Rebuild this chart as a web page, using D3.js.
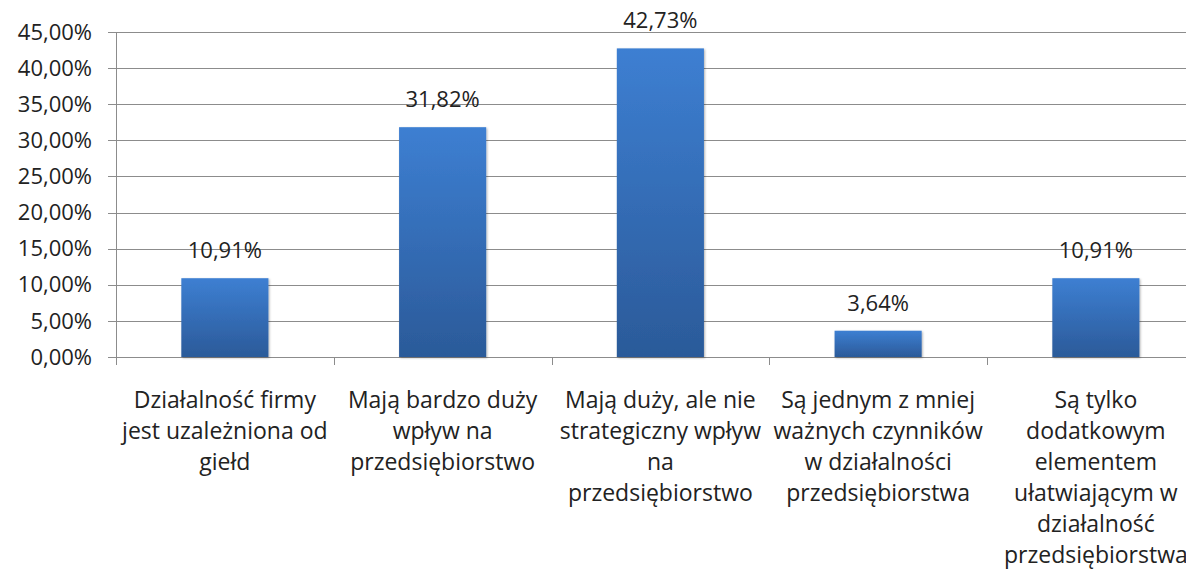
<!DOCTYPE html>
<html><head><meta charset="utf-8">
<script src="https://cdn.jsdelivr.net/npm/d3@7"></script>
<style>body{margin:0;background:#fff;} svg{display:block;}</style>
</head><body>
<svg id="c" width="1186" height="571"></svg>
<script>
const categories = [
  ["Działalność firmy", "jest uzależniona od", "giełd"],
  ["Mają bardzo duży", "wpływ na", "przedsiębiorstwo"],
  ["Mają duży, ale nie", "strategiczny wpływ", "na", "przedsiębiorstwo"],
  ["Są jednym z mniej", "ważnych czynników", "w działalności", "przedsiębiorstwa"],
  ["Są tylko", "dodatkowym", "elementem", "ułatwiającym w", "działalność", "przedsiębiorstwa"]
];
const values = [10.91, 31.82, 42.73, 3.64, 10.91];
const yTicks = [0, 5, 10, 15, 20, 25, 30, 35, 40, 45];

(function () {
const svg = d3.select("#c");
const FONT = "'Open Sans', Lato, sans-serif";
const plotLeft = 116, bandW = 217.75, plotTop = 32, plotBottom = 357;
const x = d3.scaleBand().domain(d3.range(values.length)).range([plotLeft, plotLeft + bandW * values.length]).paddingInner(0).paddingOuter(0);
const y = d3.scaleLinear().domain([0, 45]).range([plotBottom, plotTop]);
const fmt = v => v.toFixed(2).replace(".", ",") + "%";

const defs = svg.append("defs");
const g = defs.append("linearGradient").attr("id", "bg").attr("x1", 0).attr("y1", 0).attr("x2", 0).attr("y2", 1);
g.append("stop").attr("offset", "0%").attr("stop-color", "#3d7fd2");
g.append("stop").attr("offset", "100%").attr("stop-color", "#2b5a99");
const f = defs.append("filter").attr("id", "sh").attr("x", "-20%").attr("y", "-20%").attr("width", "140%").attr("height", "140%");
f.append("feDropShadow").attr("dx", 1).attr("dy", 1).attr("stdDeviation", 1.2).attr("flood-color", "#000").attr("flood-opacity", 0.3);

svg.append("g").selectAll("line").data(yTicks).join("line")
  .attr("x1", plotLeft - 8).attr("x2", 1186)
  .attr("y1", d => Math.round(y(d)) + 0.5).attr("y2", d => Math.round(y(d)) + 0.5)
  .attr("stroke", "#8c8c8c").attr("stroke-width", 1);

svg.append("g").selectAll("text").data(yTicks).join("text")
  .attr("x", 92).attr("y", d => y(d)).attr("dy", "0.35em")
  .attr("text-anchor", "end").attr("font-family", FONT).attr("font-size", 22).attr("fill", "#222")
  .text(d => fmt(d));

svg.append("line").attr("x1", plotLeft + 0.5).attr("x2", plotLeft + 0.5).attr("y1", plotTop).attr("y2", plotBottom + 8)
  .attr("stroke", "#8c8c8c");

svg.append("g").selectAll("line").data(d3.range(1, values.length)).join("line")
  .attr("x1", d => Math.round(x(d)) + 0.5).attr("x2", d => Math.round(x(d)) + 0.5)
  .attr("y1", plotBottom).attr("y2", plotBottom + 8).attr("stroke", "#8c8c8c");

const bw = x.bandwidth() * 0.4;
svg.append("g").selectAll("rect").data(values).join("rect")
  .attr("x", (d, i) => x(i) + x.bandwidth() / 2 - bw / 2)
  .attr("width", bw)
  .attr("y", d => y(d)).attr("height", d => plotBottom - y(d))
  .attr("fill", "url(#bg)").attr("filter", "url(#sh)");

svg.append("g").selectAll("text").data(values).join("text")
  .attr("x", (d, i) => x(i) + x.bandwidth() / 2).attr("y", d => y(d) - 20)
  .attr("text-anchor", "middle").attr("font-family", FONT).attr("font-size", 22).attr("fill", "#222")
  .text(d => fmt(d));

const cl = svg.append("g");
categories.forEach((lines, i) => {
  const t = cl.append("text").attr("text-anchor", "middle").attr("font-family", FONT).attr("font-size", 23).attr("fill", "#222");
  lines.forEach((s, j) => {
    t.append("tspan").attr("x", x(i) + x.bandwidth() / 2).attr("y", 408 + j * 31).text(s);
  });
});
})();
</script>
</body></html>
